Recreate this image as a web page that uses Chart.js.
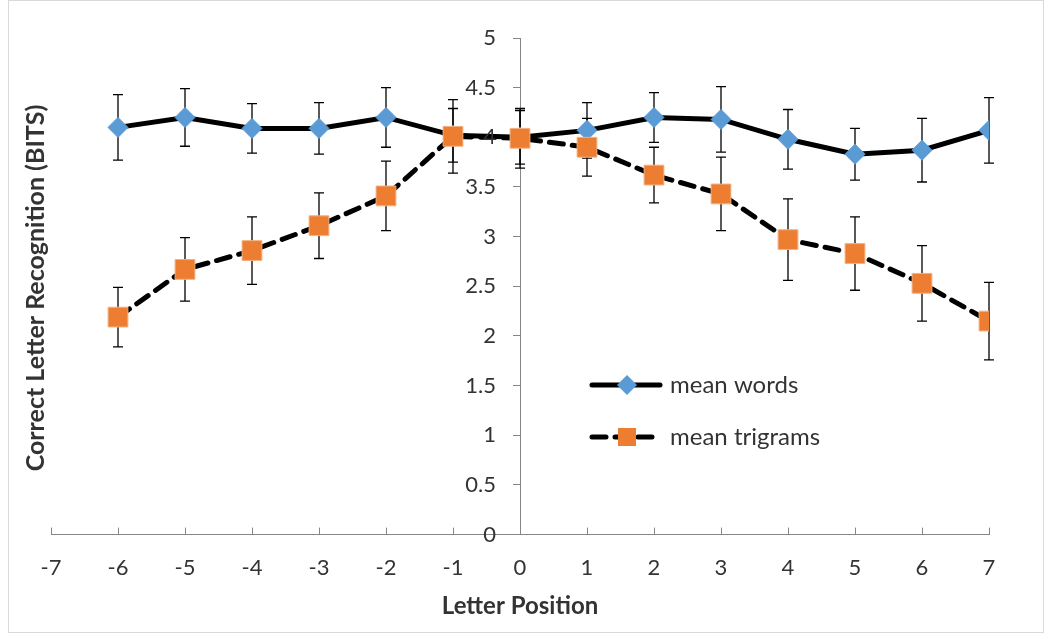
<!DOCTYPE html>
<html>
<head>
<meta charset="utf-8">
<script src="https://cdn.jsdelivr.net/npm/chart.js@4"></script>
<style>
  body { margin: 0; background: #fff; }
  #wrap { width: 1050px; height: 639px; position: relative; }
</style>
</head>
<body>
<div id="wrap"><canvas id="letterChart" width="1050" height="639"></canvas></div>
<script>
// Letter positions and the two series (mean +/- error)
const positions = [-6, -5, -4, -3, -2, -1, 0, 1, 2, 3, 4, 5, 6, 7];
const meanWords = [4.10, 4.20, 4.09, 4.09, 4.20, 4.02, 4.00, 4.07, 4.20, 4.18, 3.98, 3.83, 3.87, 4.07];
const wordsErr = [0.33, 0.29, 0.25, 0.26, 0.30, 0.27, 0.27, 0.28, 0.25, 0.33, 0.30, 0.26, 0.32, 0.33];
const meanTrigrams = [2.19, 2.67, 2.86, 3.11, 3.41, 4.01, 3.99, 3.90, 3.62, 3.43, 2.97, 2.83, 2.53, 2.15];
const trigramsErr = [0.30, 0.32, 0.34, 0.33, 0.35, 0.37, 0.30, 0.29, 0.28, 0.37, 0.41, 0.37, 0.38, 0.39];
const seriesNames = ["mean words", "mean trigrams"];
const xTitle = "Letter Position";
const yTitle = "Correct Letter Recognition (BITS)";

const FONT = "Lato, 'Liberation Sans', sans-serif";
const axisGray = "#868686";
const textGray = "#333333";

Chart.defaults.font.family = FONT;
Chart.defaults.color = textGray;

function fmtTick(v) {
    return Number(v.toFixed(1)).toString();
}

// error bars, drawn under the markers
const errorBars = {
    id: 'errorBars',
    beforeDatasetsDraw(chart) {
        const ctx = chart.ctx;
        const xs = chart.scales.x, ys = chart.scales.y;
        ctx.save();
        ctx.strokeStyle = "#000";
        ctx.lineWidth = 1.3;
        chart.data.datasets.forEach(ds => {
            ds.data.forEach((pt, i) => {
                const e = ds.errors[i];
                const x = xs.getPixelForValue(pt.x);
                const top = ys.getPixelForValue(pt.y + e);
                const bot = ys.getPixelForValue(pt.y - e);
                ctx.beginPath();
                ctx.moveTo(x, top); ctx.lineTo(x, bot);
                ctx.moveTo(x - 5, top); ctx.lineTo(x + 5, top);
                ctx.moveTo(x - 5, bot); ctx.lineTo(x + 5, bot);
                ctx.stroke();
            });
        });
        ctx.restore();
    }
};

// frame, x tick marks, y tick labels, titles and the legend inside the plot
const decorations = {
    id: 'decorations',
    afterDraw(chart) {
        const ctx = chart.ctx;
        const xs = chart.scales.x, ys = chart.scales.y;
        const area = chart.chartArea;
        ctx.save();

        ctx.strokeStyle = "#d9d9d9";
        ctx.lineWidth = 1;
        ctx.strokeRect(8.5, 0.5, 1035, 632);

        ctx.strokeStyle = axisGray;
        ctx.beginPath();
        xs.ticks.forEach(t => {
            const x = Math.round(xs.getPixelForValue(t.value)) + 0.5;
            ctx.moveTo(x, area.bottom);
            ctx.lineTo(x, area.bottom - 7);
        });
        ctx.stroke();

        // y tick labels, left of the centred axis
        const axisX = xs.getPixelForValue(0);
        ctx.fillStyle = textGray;
        ctx.font = "22px " + FONT;
        ctx.textAlign = "right";
        ctx.textBaseline = "middle";
        ys.ticks.forEach(t => {
            ctx.fillText(fmtTick(t.value), axisX - 24, ys.getPixelForValue(t.value));
        });

        ctx.font = "bold 24px " + FONT;
        ctx.textAlign = "center";
        ctx.fillText(xTitle, 520, 606);

        ctx.font = "bold 25px " + FONT;
        ctx.translate(36, 288);
        ctx.rotate(-Math.PI / 2);
        ctx.fillText(yTitle, 0, 0);
        ctx.setTransform(1, 0, 0, 1, 0, 0);

        // legend
        const lx = 592, lw = 68, ly = [385, 437];
        ctx.strokeStyle = "#000";
        ctx.lineWidth = 5;
        ctx.lineCap = "round";
        ctx.beginPath();
        ctx.moveTo(lx, ly[0]); ctx.lineTo(lx + lw, ly[0]);
        ctx.stroke();
        ctx.setLineDash([14, 9]);
        ctx.beginPath();
        ctx.moveTo(lx, ly[1]); ctx.lineTo(lx + lw - 3, ly[1]);
        ctx.stroke();
        ctx.setLineDash([]);

        const cx = 627;
        ctx.fillStyle = "#5B9BD5";
        ctx.beginPath();
        ctx.moveTo(cx - 10, ly[0]); ctx.lineTo(cx, ly[0] - 10);
        ctx.lineTo(cx + 10, ly[0]); ctx.lineTo(cx, ly[0] + 10);
        ctx.closePath();
        ctx.fill();
        ctx.fillStyle = "#ED7D31";
        ctx.fillRect(cx - 9, ly[1] - 9, 18, 18);

        ctx.fillStyle = textGray;
        ctx.font = "24px " + FONT;
        ctx.textAlign = "left";
        ctx.fillText(seriesNames[0], 670, ly[0]);
        ctx.fillText(seriesNames[1], 670, ly[1]);
        ctx.restore();
    }
};

new Chart("letterChart", {
    type: "line",
    data: {
        datasets: [{
            label: seriesNames[0],
            data: positions.map((p, i) => ({x: p, y: meanWords[i]})),
            errors: wordsErr,
            order: 1,
            borderColor: "#000",
            borderWidth: 5,
            tension: 0,
            pointStyle: "rectRot",
            pointRadius: 10,
            pointBackgroundColor: "#5B9BD5",
            pointBorderColor: "#5B9BD5",
            pointBorderWidth: 1
        }, {
            label: seriesNames[1],
            data: positions.map((p, i) => ({x: p, y: meanTrigrams[i]})),
            errors: trigramsErr,
            order: 0,
            borderColor: "#000",
            borderWidth: 5,
            borderDash: [14, 9],
            borderCapStyle: "round",
            tension: 0,
            pointStyle: "rect",
            pointRadius: 14,
            pointBackgroundColor: "#ED7D31",
            pointBorderColor: "#F4B183",
            pointBorderWidth: 1
        }]
    },
    options: {
        responsive: false,
        animation: false,
        devicePixelRatio: 1,
        layout: { padding: { left: 51, right: 61, top: 38, bottom: 38 } },
        plugins: {
            legend: { display: false },
            tooltip: { enabled: false }
        },
        scales: {
            x: {
                type: "linear",
                position: "bottom",
                min: -7, max: 7,
                ticks: { stepSize: 1, padding: 20, color: textGray, font: { size: 22 } },
                grid: { drawOnChartArea: false, drawTicks: false },
                border: { color: axisGray, width: 1 }
            },
            y: {
                type: "linear",
                position: { x: 0 },
                min: 0, max: 5,
                ticks: { stepSize: 0.5, display: false, callback: fmtTick },
                grid: { drawOnChartArea: false, tickLength: 7, color: axisGray },
                border: { color: axisGray, width: 1 }
            }
        }
    },
    plugins: [errorBars, decorations]
});
</script>
</body>
</html>
